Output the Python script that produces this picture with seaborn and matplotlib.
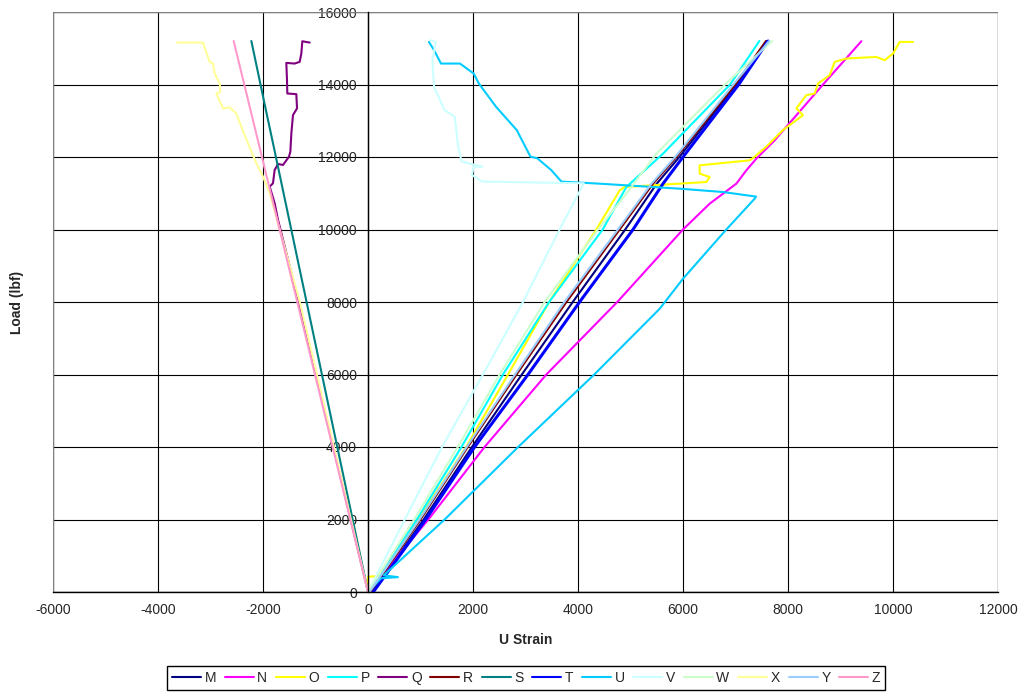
import matplotlib
matplotlib.use('Agg')
import matplotlib.pyplot as plt
from matplotlib.patches import Rectangle
import numpy as np
import pandas as pd
import seaborn as sns

# strain gauge names and the Excel-style line colours
GAUGES = ['M', 'N', 'O', 'P', 'Q', 'R', 'S', 'T', 'U', 'V', 'W', 'X', 'Y', 'Z']
COLORS = ['#000080', '#FF00FF', '#FFFF00', '#00FFFF', '#800080', '#800000', '#008080',
          '#0000FF', '#00CCFF', '#CCFFFF', '#CCFFCC', '#FFFF99', '#99CCFF', '#FF99CC']

# (U strain, load lbf)
M = [(80, 0), (1060, 2000), (1980, 4000), (2930, 6000), (3900, 8000), (4900, 10000),
     (5500, 11264), (5930, 12000), (7020, 14000), (7600, 15200)]
N = [(0, 0), (1150, 2000), (2220, 4000), (3397, 6000), (4748, 8000), (6000, 10000),
     (6508, 10712), (6762, 10988), (7016, 11264), (7206, 11632), (7397, 11954),
     (7746, 12460), (8667, 14000), (9397, 15193)]
O = [(0, 0), (0, 420), (190, 440), (960, 2000), (1870, 4000), (2667, 6000), (3450, 8000),
     (4350, 10000), (4794, 11080), (4889, 11172), (6444, 11310), (6508, 11448),
     (6317, 11540), (6317, 11770), (7270, 11908), (7365, 12009), (7587, 12284),
     (7905, 12743), (8286, 13156), (8159, 13340), (8349, 13706), (8508, 13752),
     (8571, 14028), (8794, 14257), (8889, 14624), (9111, 14716), (9682, 14761),
     (9841, 14670), (10000, 14853), (10127, 15174), (10381, 15174)]
P = [(0, 0), (930, 2000), (1780, 4000), (2571, 6000), (3450, 8000), (4470, 10000),
     (4921, 11172), (5619, 12092), (6898, 14000), (7455, 15200)]
Q = [(0, 0), (-660, 4000), (-1320, 8000), (-1714, 10266), (-1778, 10725), (-1873, 11184),
     (-1810, 11275), (-1778, 11642), (-1714, 11807), (-1619, 11780), (-1505, 12009),
     (-1479, 12147), (-1460, 12651), (-1429, 13156), (-1352, 13340), (-1365, 13734),
     (-1537, 13752), (-1543, 14119), (-1556, 14596), (-1397, 14578), (-1302, 14624),
     (-1270, 14853), (-1251, 15193), (-1111, 15156)]
R = [(50, 0), (1000, 2000), (1900, 4000), (2830, 6000), (3780, 8000), (4794, 10000),
     (5429, 11264), (5873, 12000), (6996, 14000), (7580, 15200)]
S = [(0, 0), (-585, 4000), (-1170, 8000), (-1754, 12000), (-1960, 13400), (-2222, 15200)]
T = [(100, 0), (1100, 2000), (2030, 4000), (3048, 6000), (4030, 8000), (5048, 10000),
     (5619, 11264), (6000, 12000), (6530, 13000), (7062, 14000), (7620, 15200)]
U = [(0, 0), (250, 380), (570, 410), (300, 460), (1460, 2000), (2860, 4000), (4310, 6000),
     (5556, 7814), (6000, 8642), (6825, 10000), (7365, 10850), (7390, 10908),
     (6762, 11034), (5937, 11126), (4413, 11264), (3685, 11321), (3488, 11642),
     (3226, 11963), (3095, 12009), (2833, 12743), (2439, 13385), (2111, 14028),
     (2013, 14303), (1751, 14578), (1390, 14578), (1259, 14945), (1161, 15174)]
V = [(0, 0), (700, 2000), (1410, 4000), (2190, 6000), (2952, 8000), (3650, 10000),
     (4079, 11184), (4111, 11275), (2177, 11321), (1980, 11505), (2013, 11734),
     (2177, 11734), (1784, 11872), (1718, 12284), (1652, 13110), (1456, 13294),
     (1259, 13936), (1226, 14670), (1292, 15174), (1193, 15220)]
W = [(0, 0), (880, 2000), (1710, 4000), (2508, 6000), (3365, 8000), (4380, 10000),
     (4921, 10988), (5492, 12092), (6800, 14000), (7700, 15200)]
X = [(0, 0), (-650, 4000), (-1300, 8000), (-1873, 11000), (-2000, 11459), (-2127, 11826),
     (-2286, 12376), (-2413, 12835), (-2508, 13202), (-2635, 13367), (-2762, 13340),
     (-2889, 13752), (-2813, 13800), (-2825, 14028), (-2921, 14303), (-2952, 14578),
     (-3016, 14624), (-3143, 15156), (-3638, 15156)]
Y = [(30, 0), (980, 2000), (1880, 4000), (2800, 6000), (3740, 8000), (4760, 10000),
     (5400, 11264), (5850, 12000), (6960, 14000), (7640, 15200)]
Z = [(0, 0), (-673, 4000), (-1347, 8000), (-2020, 12000), (-2559, 15200)]

SERIES = [M, N, O, P, Q, R, S, T, U, V, W, X, Y, Z]


def build_frame():
    rows = []
    for name, pts in zip(GAUGES, SERIES):
        for strain, load in pts:
            rows.append({'gauge': name, 'strain': strain, 'load': load})
    return pd.DataFrame(rows)


def main():
    sns.set_style('white')
    plt.rcParams['font.family'] = ['Liberation Sans', 'DejaVu Sans']
    plt.rcParams['axes.unicode_minus'] = False

    df = build_frame()

    fig = plt.figure(figsize=(10.24, 6.95), dpi=100)
    ax = fig.add_axes([53 / 1024, 1 - 592 / 695, 945 / 1024, 580 / 695])

    sns.lineplot(data=df, x='strain', y='load', hue='gauge', hue_order=GAUGES,
                 palette=COLORS, sort=False, estimator=None, linewidth=1.5, ax=ax)

    # T looks heavier in the original (noisy trace)
    for line in ax.lines:
        if line.get_color() == '#0000FF' or line.get_color() == (0.0, 0.0, 1.0):
            line.set_linewidth(2.2)

    ax.set_xlim(-6000, 12000)
    ax.set_ylim(0, 16000)
    ax.set_xticks(np.arange(-6000, 12001, 2000))
    ax.set_yticks(np.arange(0, 16001, 2000))
    ax.grid(True, color='black', linewidth=0.8)

    # y axis crosses at strain 0, like the Excel chart
    ax.spines['left'].set_position(('data', 0))
    for side in ['left', 'bottom']:
        ax.spines[side].set_color('black')
        ax.spines[side].set_linewidth(1.0)
    ax.spines['top'].set_visible(False)
    ax.spines['right'].set_visible(False)
    ax.add_patch(Rectangle((0, 0), 1, 1, transform=ax.transAxes, fill=False,
                           edgecolor='#808080', linewidth=1.0, zorder=1.8))

    ax.tick_params(direction='out', length=5, width=1, color='black',
                   labelsize=10, pad=3)

    ax.set_xlabel('U Strain', fontsize=10, fontweight='bold')
    ax.set_ylabel('Load (lbf)', fontsize=10, fontweight='bold')
    ax.xaxis.set_label_coords(0.5, -(633 - 592) / 580)
    ax.yaxis.set_label_coords((24 - 53) / 945, 0.5)

    handles, labels = ax.get_legend_handles_labels()
    for h in handles:
        h.set_linewidth(1.5)
    ax.legend(handles, labels, ncol=14, loc='center',
              bbox_to_anchor=(526 / 1024, 1 - 678 / 695), bbox_transform=fig.transFigure,
              frameon=True, fancybox=False, edgecolor='black', framealpha=1,
              fontsize=10, handlelength=2.1, handletextpad=0.25, columnspacing=0.62,
              borderpad=0.35)

    fig.savefig('out.png', dpi=100)


if __name__ == '__main__':
    main()
